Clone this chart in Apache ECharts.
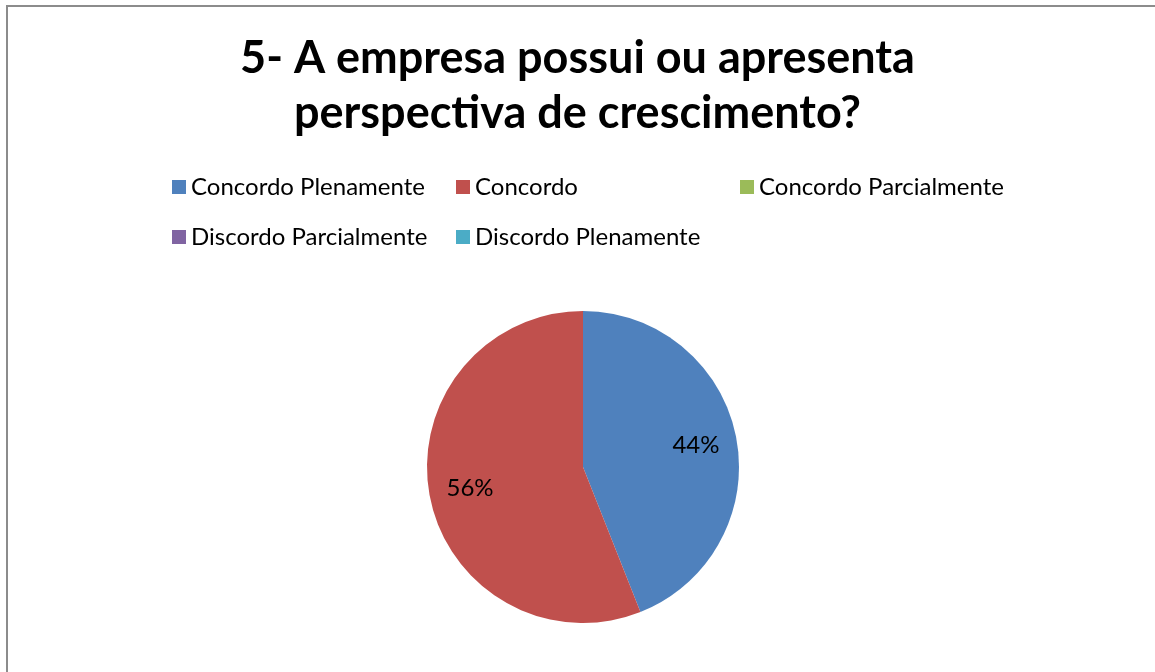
<!DOCTYPE html>
<html>
<head>
<meta charset="utf-8">
<style>
    html, body { margin: 0; padding: 0; background: #fff; }
    #main { position: absolute; left: 0; top: 0; width: 1155px; height: 672px; }
    #frame { position: absolute; left: 6px; top: 5px; right: 0; bottom: 0;
             border-left: 2px solid #8c8c8c; border-top: 2px solid #8c8c8c; pointer-events: none; }
</style>
</head>
<body>
<div id="main"></div>
<div id="frame"></div>
<script src="https://cdn.jsdelivr.net/npm/echarts@6/dist/echarts.min.js"></script>
<script type="text/javascript">
    var titleText = '5- A empresa possui ou apresenta\nperspectiva de crescimento?';
    var categories = ['Concordo Plenamente', 'Concordo', 'Concordo Parcialmente', 'Discordo Parcialmente', 'Discordo Plenamente'];
    var values = [44, 56, 0, 0, 0];
    var colors = ['#4F81BD', '#C0504D', '#9BBB59', '#8064A2', '#4BACC6'];

    var font = 'Lato';
    var chart = echarts.init(document.getElementById('main'));

    var pieData = [];
    for (var i = 0; i < categories.length; i++) {
        pieData.push({ name: categories[i], value: values[i] });
    }

    var option = {
        animation: false,
        color: colors,
        title: {
            text: titleText,
            left: 'center',
            top: 26,
            textStyle: {
                fontFamily: font,
                fontWeight: 'bold',
                fontSize: 45,
                lineHeight: 55,
                color: '#000'
            }
        },
        legend: {
            left: 167,
            top: 169,
            width: 860,
            orient: 'horizontal',
            itemWidth: 14,
            itemHeight: 14,
            itemGap: 24,
            icon: 'rect',
            data: categories,
            textStyle: {
                fontFamily: font,
                fontSize: 24,
                color: '#000',
                width: 241,
                lineHeight: 26
            }
        },
        series: [
            {
                name: 'resposta',
                type: 'pie',
                center: [583, 467],
                radius: 156,
                startAngle: 90,
                clockwise: true,
                silent: true,
                label: { show: false },
                labelLine: { show: false },
                itemStyle: { borderWidth: 0 },
                data: pieData
            },
            {
                name: 'rotulos',
                type: 'pie',
                center: [583, 467],
                radius: [0, 224],
                startAngle: 90,
                clockwise: true,
                silent: true,
                itemStyle: { color: 'rgba(0,0,0,0)', borderWidth: 0 },
                labelLine: { show: false },
                label: {
                    show: true,
                    position: 'inside',
                    fontFamily: font,
                    fontSize: 24,
                    color: '#000',
                    formatter: function (p) {
                        return p.value ? Math.round(p.percent) + '%' : '';
                    }
                },
                data: pieData
            }
        ]
    };

    chart.setOption(option);
</script>
</body>
</html>
